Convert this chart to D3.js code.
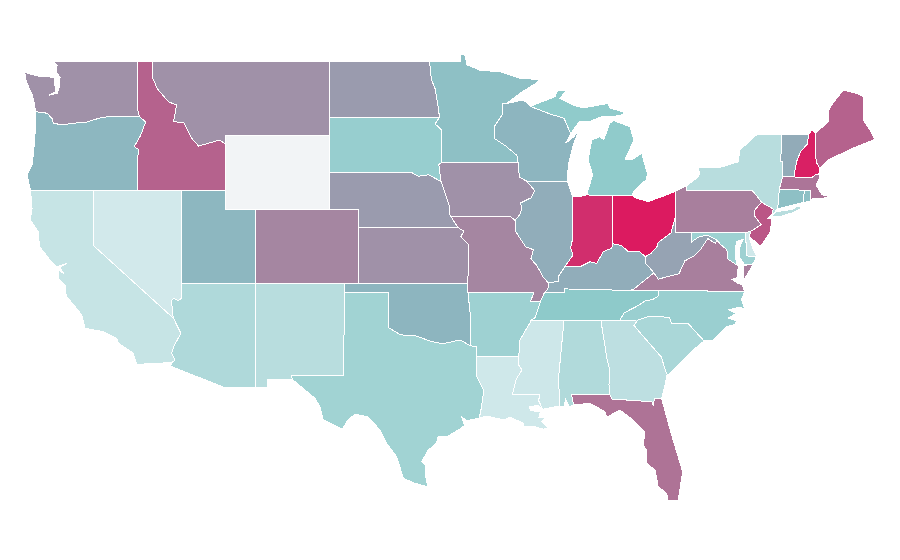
<!DOCTYPE html>
<html>
<head>
<meta charset="utf-8">
<title>US states</title>
<script src="https://cdn.jsdelivr.net/npm/d3@7"></script>
<style>
  body { margin: 0; background: #fff; }
  .state { stroke: #fff; stroke-width: 1; shape-rendering: crispEdges; }
</style>
</head>
<body>
<svg id="map" width="900" height="560"></svg>
<script>
// state values, same order in both lists. null = no data
const stateNames = ["Alabama","Arizona","Arkansas","California","Colorado","Connecticut","Delaware","Florida","Georgia","Idaho","Illinois","Indiana","Iowa","Kansas","Kentucky","Louisiana","Maine","Maryland","Massachusetts","Michigan","Minnesota","Mississippi","Missouri","Montana","Nebraska","Nevada","New Hampshire","New Jersey","New Mexico","New York","North Carolina","North Dakota","Ohio","Oklahoma","Oregon","Pennsylvania","Rhode Island","South Carolina","South Dakota","Tennessee","Texas","Utah","Vermont","Virginia","Washington","West Virginia","Wisconsin","Wyoming"];
const stateValues = [15,16,23,6,60,35,2,68,10,75,43,93,55,55,43,2,75,23,67,29,35,3,60,55,50,1,98,79,12,12,25,50,100,40,39,63,35,18,26,30,22,39,44,63,55,47,40,null];

// colour ramp
const rampStops = [0,30,40,50,60,75,100];
const rampColors = ["#d4eaec","#8ecaca","#8db5bf","#9a9bae","#a586a1","#b5628d","#dc1a60"];
const noDataColor = "#f2f4f6";

// borders, lon/lat. shared ones are kept once so neighbours line up
const waCoast = [[-122.76,49],[-122.5,48.75],[-122.55,48.4],[-122.3,48.1],[-122.35,47.6],[-122.5,47.25],[-123.05,47.15],[-122.6,47.35],[-122.65,47.7],[-122.7,48.1],[-123.1,48.15],[-123.7,48.17],[-124.7,48.38],[-124.6,47.9],[-124.2,47.2],[-124.05,46.7],[-123.95,46.25]];
const columbia = [[-123.95,46.25],[-123.4,46.22],[-123.15,46.15],[-122.85,45.9],[-122.75,45.65],[-122.25,45.55],[-121.2,45.65],[-120.5,45.7],[-119.6,45.92],[-119,46],[-116.92,46]];
const waId = [[-117.03,49],[-117.04,46.4],[-116.92,46]];
const orCoast = [[-123.95,46.25],[-124,45],[-124.1,44],[-124.2,43.4],[-124.55,42.85],[-124.3,42]];
const snake = [[-116.92,46],[-116.49,45.7],[-116.85,44.95],[-117.27,44.37],[-116.95,44.2],[-117.03,43.8],[-117.03,42]];
const idMt = [[-116.05,49],[-116.05,48.15],[-115.7,47.5],[-114.95,46.8],[-114.39,46.62],[-114.6,45.72],[-113.9,45.66],[-113.36,44.82],[-112.9,44.4],[-111.45,44.73],[-111.05,44.48]];
const caCoast = [[-124.3,42],[-124.2,41],[-124.33,40.41],[-123.77,39.77],[-123.7,38.97],[-122.98,38.24],[-122.52,37.88],[-121.85,38.05],[-122.3,37.85],[-122.05,37.5],[-122.4,37.7],[-122.4,37.2],[-121.96,36.9],[-121.96,36.62],[-121.84,36.26],[-120.82,35.27],[-120.6,34.55],[-119.36,34.37],[-118.45,34.01],[-118.34,33.74],[-117.33,33.2],[-117.1,32.6]];
const colorado = [[-114.72,32.7],[-114.5,32.84],[-114.72,33.2],[-114.6,33.55],[-114.1,34.28],[-114.6,35.09]];
const nvAz = [[-114.05,37],[-114.05,36.17],[-114.3,36.05],[-114.6,36.17],[-114.72,36.08],[-114.68,35.36],[-114.6,35.09]];
const rioGrande = [[-97.35,25.99],[-98.2,26.17],[-99,26.44],[-99.46,27.61],[-100.14,28.33],[-100.59,29.05],[-101.4,29.77],[-102.29,29.9],[-102.76,29.6],[-103.15,29.09],[-104.44,29.6],[-104.66,30.31],[-105,30.77],[-106.53,31.78]];
const txCoast = [[-93.85,29.7],[-94.7,29.55],[-95.05,29.77],[-94.85,29.3],[-95.28,29.05],[-96.06,28.69],[-96.64,28.69],[-96.75,28.34],[-97.31,27.97],[-97.76,27.34],[-97.49,27.16],[-97.49,26.53],[-97.35,25.99]];
const txOk = [[-100,36.5],[-100,34.58],[-99.2,34.2],[-98.1,34.13],[-97.08,33.83],[-96.3,33.72],[-95.16,33.92],[-94.48,33.62]];
const txAr = [[-94.48,33.62],[-94.04,33.55],[-94.04,33.02]];
const txLa = [[-94.04,33.02],[-94.04,31.99],[-93.55,31.2],[-93.7,30.3],[-93.85,29.7]];
const okAr = [[-94.62,36.5],[-94.48,35.4],[-94.48,33.62]];
const arTn = [[-89.7,36],[-90.07,35.13],[-90.3,35]];
const arMs = [[-90.3,35],[-90.6,34.6],[-91.1,33.9],[-91.17,33.02]];
const msLa = [[-91.17,33.02],[-91.2,32.6],[-90.95,32.3],[-91.35,31.8],[-91.6,31],[-89.73,31],[-89.83,30.65],[-89.55,30.18]];
const laCoast = [[-89.55,30.18],[-89.87,30.4],[-90.43,30.3],[-90.4,30.1],[-89.7,30.05],[-89.8,29.75],[-89.3,29.75],[-89.62,29.5],[-89.2,29.16],[-89.5,29.1],[-90.08,29.23],[-90.87,29.25],[-90.87,29.42],[-91.77,29.75],[-92.2,29.6],[-93.35,29.81],[-93.85,29.7]];
const missMoIl = [[-91.43,40.38],[-91.4,39.8],[-90.7,38.95],[-90.18,38.8],[-90.35,38.3],[-89.95,37.95],[-89.5,37.3],[-89.15,37]];
const moKy = [[-89.15,37],[-89.2,36.65],[-89.42,36.5]];
const moTn = [[-89.42,36.5],[-89.7,36]];
const ksMo = [[-95.3,40],[-94.9,39.8],[-95.1,39.5],[-94.6,39.1],[-94.62,37]];
const neSd = [[-104.05,43],[-98.5,43],[-98,42.77],[-97.3,42.85],[-96.45,42.49]];
const neIa = [[-96.45,42.49],[-96.1,41.7],[-95.9,41.2],[-95.85,40.7],[-95.77,40.58]];
const neMo = [[-95.77,40.58],[-95.3,40]];
const mnSd = [[-96.56,45.94],[-96.85,45.6],[-96.45,45.3],[-96.45,43.5]];
const sdIa = [[-96.45,43.5],[-96.6,43.4],[-96.45,42.49]];
const redNorth = [[-97.23,49],[-97.1,48],[-96.85,47.5],[-96.6,46.3],[-96.56,45.94]];
const mnWi = [[-91.22,43.5],[-91.3,43.9],[-92.05,44.4],[-92.8,44.8],[-92.8,45.5],[-92.3,46.1],[-92.25,46.7],[-92,46.7]];
const iaWi = [[-90.64,42.51],[-91.1,42.7],[-91.2,43.1],[-91.22,43.5]];
const iaIl = [[-91.43,40.38],[-91.1,40.7],[-90.95,41.1],[-91.07,41.32],[-90.35,41.6],[-90.1,42],[-90.64,42.51]];
const ilIn = [[-87.53,41.67],[-87.53,39.35],[-87.65,38.9],[-87.5,38.5],[-88.05,37.88]];
const ilKy = [[-88.05,37.88],[-88.45,37.4],[-88.5,37.1],[-89.15,37]];
const inKy = [[-88.05,37.88],[-87.02,37.88],[-86.34,38.15],[-85.89,38.06],[-85.44,38.69],[-84.87,38.88],[-84.8,39.12]];
const inOh = [[-84.8,41.72],[-84.8,39.12]];
const ohWv = [[-80.52,40.64],[-80.85,39.7],[-81.7,39.2],[-81.8,38.95],[-82.2,38.6],[-82.6,38.42]];
const ohKy = [[-82.6,38.42],[-82.95,38.69],[-83.74,38.69],[-84.2,39.03],[-84.8,39.12]];
const kyWv = [[-82.6,38.42],[-82.6,38.1],[-82,37.55]];
const kyVa = [[-82,37.55],[-83.4,36.65],[-83.68,36.6]];
const kyTn = [[-83.68,36.6],[-88.07,36.68],[-88.07,36.5],[-89.42,36.5]];
const tnVa = [[-81.68,36.59],[-83.68,36.6]];
const tnNc = [[-81.68,36.59],[-81.7,36.3],[-82.05,36.12],[-82.6,36.03],[-83.2,35.72],[-84,35.4],[-84.32,34.99]];
const tnSouth = [[-90.3,35],[-88.1,35],[-85.6,34.98],[-84.32,34.99]];
const msAl = [[-88.4,30.35],[-88.47,31.9],[-88.1,35]];
const alGa = [[-85.6,34.98],[-85.18,32.87],[-85,32.3],[-85.05,31.5],[-85,30.97]];
const alFl = [[-85,30.97],[-87.6,30.97],[-87.45,30.4]];
const alCoast = [[-87.45,30.4],[-87.75,30.3],[-88,30.7],[-88.1,30.3],[-88.4,30.35]];
const gaSc = [[-83.1,35],[-83.35,34.7],[-82.6,34],[-81.5,33],[-81.15,32.1],[-81.1,32.05]];
const gaCoast = [[-81.1,32.05],[-81.3,31.3],[-81.48,30.75]];
const gaFl = [[-81.48,30.75],[-81.95,30.77],[-82.05,30.4],[-82.15,30.58],[-84.85,30.73],[-85,30.97]];
const flCoast = [[-81.48,30.75],[-80.8,28.78],[-80.05,26.8],[-80.35,25.27],[-81.03,25.22],[-81.14,25.63],[-81.71,25.99],[-81.93,26.89],[-82.5,27.25],[-82.5,27.97],[-82.73,28.24],[-82.61,28.96],[-83.4,29.59],[-84.31,30.14],[-85.21,29.74],[-85.33,30.05],[-86.34,30.5],[-87.45,30.4]];
const scCoast = [[-81.1,32.05],[-80.92,32.1],[-80,32.84],[-79.2,33.47],[-78.6,33.87]];
const scNc = [[-78.6,33.87],[-79.67,34.8],[-80.8,34.82],[-80.93,35.1],[-81.05,35.15],[-82.3,35.2],[-83.1,35]];
const ncCoast = [[-78.6,33.87],[-77.97,33.9],[-77.07,34.65],[-76.5,34.75],[-76.4,34.95],[-76.95,35.1],[-76.45,35.35],[-76.9,35.55],[-76.2,35.7],[-75.85,35.6],[-76.05,36.1],[-75.85,36.55]];
const vaWv = [[-82,37.55],[-81.7,37.2],[-81.3,37.3],[-80.3,37.5],[-79.9,38.2],[-79.3,38.45],[-78.87,38.78],[-78.35,39.4],[-77.83,39.14],[-77.72,39.32]];
const wvMd = [[-77.72,39.32],[-78.4,39.6],[-79,39.47],[-79.48,39.2],[-79.48,39.72]];
const potomac = [[-76.25,37.9],[-77,38.3],[-77.05,38.8],[-77.5,39.1],[-77.72,39.32]];
const vaCoast = [[-75.85,36.55],[-76,36.9],[-76.35,37],[-76.7,37.2],[-76.3,37.3],[-76.35,37.6],[-76.25,37.9]];
const nyVt = [[-73.34,45.01],[-73.35,44.2],[-73.43,43.6],[-73.25,43.55],[-73.27,42.74]];
const nyMa = [[-73.27,42.74],[-73.5,42.05]];
const nyCt = [[-73.5,42.05],[-73.55,41.3],[-73.65,41]];
const nyNj = [[-74,40.7],[-73.9,41],[-74.7,41.36]];
const nyPa = [[-74.7,41.36],[-75.05,41.75],[-75.35,42],[-79.76,42],[-79.76,42.27]];
const njPa = [[-74.7,41.36],[-75.13,40.98],[-75.2,40.65],[-74.72,40.15],[-75.42,39.8]];
const vtNh = [[-71.5,45.01],[-71.6,44.5],[-72.05,44.1],[-72.3,43.6],[-72.45,43],[-72.46,42.73]];
const nhMa = [[-72.46,42.73],[-71.3,42.7],[-71,42.87],[-70.82,42.87]];
const nhMe = [[-71.3,45.27],[-71.03,45.1],[-71,43.55],[-70.74,43.2],[-70.82,42.87]];
const wiMi = [[-90.4,46.55],[-89.1,46.15],[-88.1,45.9],[-87.8,45.35],[-87.65,45.05]];

const rev = a => a.slice().reverse();
const ring = (...parts) => parts.flat();

const stateShapes = {
  "Washington": [ring([[-122.76,49],[-117.03,49]], waId, rev(columbia), rev(waCoast))],
  "Oregon": [ring(columbia, snake, [[-120,42]], rev(orCoast))],
  "Idaho": [ring([[-117.03,49]], idMt, [[-111.05,42],[-114.04,42]], rev(snake), rev(waId))],
  "Montana": [ring([[-104.05,49],[-104.05,45],[-111.05,45]], rev(idMt))],
  "Wyoming": [[[-111.05,45],[-104.05,45],[-104.05,41],[-111.05,41]]],
  "California": [ring([[-124.3,42],[-120,42],[-120,39]], rev(colorado), rev(caCoast))],
  "Nevada": [ring([[-120,42],[-114.04,42]], nvAz, [[-120,39]])],
  "Utah": [[[-114.04,42],[-111.05,42],[-111.05,41],[-109.05,41],[-109.05,37],[-114.05,37]]],
  "Colorado": [[[-109.05,41],[-102.05,41],[-102.05,37],[-109.05,37]]],
  "Arizona": [ring([[-114.05,37],[-109.05,37],[-109.05,31.33],[-111.07,31.33],[-114.8,32.5]], colorado, rev(nvAz))],
  "New Mexico": [[[-109.05,37],[-103,37],[-103,36.5],[-103.06,32],[-106.62,32],[-106.53,31.78],[-108.2,31.78],[-108.2,31.33],[-109.05,31.33]]],
  "Texas": [ring([[-103,36.5]], txOk, txAr, txLa, txCoast, rioGrande, [[-106.62,32],[-103.06,32]])],
  "Oklahoma": [ring([[-103,37],[-94.62,37]], okAr, rev(txOk), [[-103,36.5]])],
  "Kansas": [ring([[-102.05,40]], ksMo, [[-102.05,37]])],
  "Nebraska": [ring(neSd, neIa, neMo, [[-102.05,40],[-102.05,41],[-104.05,41]])],
  "South Dakota": [ring([[-104.05,45.94]], mnSd, sdIa, rev(neSd))],
  "North Dakota": [ring([[-104.05,49]], redNorth, [[-104.05,45.94]])],
  "Minnesota": [ring([[-97.23,49],[-95.15,49],[-95.15,49.38],[-94.8,49.3],[-94.7,48.8],[-93.8,48.5],[-92.45,48.42],[-91.1,48.06],[-89.75,48],[-90,47.8],[-91,47.3]], rev(mnWi), [[-96.45,43.5]], rev(mnSd), rev(redNorth))],
  "Iowa": [ring([[-96.45,43.5]], rev(iaWi), rev(iaIl), [[-91.73,40.6]], rev(neIa), rev(sdIa))],
  "Missouri": [ring([[-95.77,40.58],[-91.73,40.6]], missMoIl, moKy, moTn, [[-90.37,36],[-90.15,36.5],[-94.62,36.5]], rev(ksMo))],
  "Arkansas": [ring([[-94.62,36.5],[-90.15,36.5],[-90.37,36]], arTn, arMs, rev(txAr), rev(okAr))],
  "Louisiana": [ring([[-94.04,33.02]], msLa, laCoast, rev(txLa))],
  "Wisconsin": [ring([[-92,46.7],[-90.85,46.9]], wiMi, [[-88,44.55],[-87.45,44.9],[-87.1,45.25],[-87.5,44.4],[-87.81,43.4],[-87.88,42.5]], iaWi, mnWi)],
  "Illinois": [ring([[-90.64,42.51],[-87.88,42.5]], ilIn, ilKy, rev(missMoIl), iaIl)],
  "Indiana": [ring([[-87.53,41.67],[-87.2,41.65],[-86.57,41.76]], inOh, rev(inKy), rev(ilIn))],
  "Ohio": [ring([[-84.8,41.72],[-83.5,41.73],[-83.17,41.58],[-82.39,41.4],[-81.14,41.76],[-80.52,41.97]], ohWv, ohKy, rev(inOh))],
  "Michigan": [
    ring([[-86.57,41.76],[-86.16,42.84],[-86.46,43.65],[-86.23,44.73],[-85.67,44.91],[-85.4,44.75],[-85,45.63],[-84.75,45.78],[-83.63,45.45],[-83.36,44.73],[-83.97,43.65],[-83.5,43.65],[-82.83,44.01],[-82.45,42.93],[-82.5,42.6],[-83.29,42.03],[-83.5,41.73],[-84.8,41.72]]),
    ring(wiMi, [[-87.1,45.7],[-86.3,45.75],[-85.5,46],[-84.9,45.98],[-84.07,46.1],[-84.07,46.25],[-85,46.46],[-85.1,46.71],[-86.82,46.46],[-87.48,46.62],[-88.38,46.98],[-87.93,47.43],[-88.52,47.43],[-88.72,47.07]])
  ],
  "Kentucky": [ring(inKy, rev(ohKy), kyWv, kyVa, kyTn, rev(moKy), rev(ilKy))],
  "Tennessee": [ring(tnVa, kyTn, moTn, arTn, tnSouth, rev(tnNc))],
  "Mississippi": [ring([[-90.3,35]], rev(msAl), rev(msLa), rev(arMs))],
  "Alabama": [ring([[-88.1,35]], alGa, alFl, alCoast, msAl)],
  "Georgia": [ring([[-85.6,34.98],[-84.32,34.99]], gaSc, gaCoast, gaFl, rev(alGa))],
  "Florida": [ring(rev(gaFl), flCoast, rev(alFl))],
  "South Carolina": [ring(gaSc, scCoast, scNc)],
  "North Carolina": [ring([[-84.32,34.99]], rev(scNc), ncCoast, tnNc)],
  "Virginia": [
    ring([[-83.68,36.6],[-81.68,36.59]], vaCoast, potomac, rev(vaWv), kyVa),
    [[-75.9,37.95],[-75.25,38.03],[-75.9,37.15]]
  ],
  "West Virginia": [ring(vaWv, wvMd, [[-80.52,39.72]], ohWv, kyWv)],
  "Maryland": [ring([[-79.48,39.72],[-75.79,39.72],[-75.7,38.46],[-75.05,38.45],[-75.25,38.03],[-75.85,38],[-76.2,38.4],[-76.2,38.9],[-75.95,39.35],[-76.4,39.25],[-76.5,38.6],[-76.4,38.05]], potomac, wvMd)],
  "Delaware": [[[-75.79,39.72],[-75.42,39.8],[-75.55,39.5],[-75.35,39],[-75.05,38.45],[-75.7,38.46]]],
  "Pennsylvania": [ring([[-80.52,41.97]], rev(nyPa), njPa, [[-75.79,39.72],[-80.52,39.72]])],
  "New Jersey": [ring(rev(nyNj), [[-74.25,40.5],[-74,40.45],[-74.1,39.75],[-74.8,38.95],[-75.05,39.2],[-75.55,39.5]], rev(njPa))],
  "New York": [
    ring([[-79.76,42.27],[-79.05,42.7],[-78.9,42.9],[-79,43.27],[-77.52,43.25],[-76.28,43.55],[-76.17,44.19],[-75.05,45]], nyVt, nyMa, nyCt, [[-73.8,40.8]], nyNj, nyPa),
    [[-74,40.6],[-73.75,40.85],[-72.6,40.98],[-72.3,41.15],[-71.9,41.07],[-72.5,40.82],[-73.5,40.58]]
  ],
  "Vermont": [ring(nyVt, rev(vtNh))],
  "New Hampshire": [ring(vtNh, nhMa, rev(nhMe))],
  "Maine": [ring(nhMe.slice(1, 4), [[-70.17,43.65],[-69,44.1],[-68.25,44.37],[-67,44.77],[-67.35,45.27],[-67.8,45.81],[-67.8,47.07],[-68.25,47.25],[-69.15,47.43],[-69.95,46.62],[-70.17,46.26],[-70.17,45.72]])],
  "Massachusetts": [ring([[-73.27,42.74]], nhMa, [[-70.72,42.75],[-71,42.3],[-70.6,41.76],[-70,41.7],[-70.55,41.58],[-71.2,41.58],[-71.35,41.45],[-71.38,42.02],[-71.8,42.02],[-73.5,42.05]])],
  "Connecticut": [ring(nyCt, [[-71.85,41.35],[-71.8,42.02]])],
  "Rhode Island": [[[-71.8,42.02],[-71.38,42.02],[-71.35,41.45],[-71.85,41.35]]]
};

const width = 900, height = 560;

// the map is plain lon/lat stretched to the page
const x = d3.scaleLinear().domain([-104.05, -67]).range([329, 875]);
const y = d3.scaleLinear().domain([49, 25]).range([61, 505]);
const color = d3.scaleLinear().domain(rampStops).range(rampColors);

const path = d3.geoPath(d3.geoTransform({
  point: function(lon, lat) { this.stream.point(x(lon), y(lat)); }
}));

const features = stateNames.map((name, i) => ({
  type: "Feature",
  properties: { name: name, value: stateValues[i] },
  geometry: {
    type: "MultiPolygon",
    coordinates: stateShapes[name].map(r => [r.concat([r[0]])])
  }
}));

d3.select("#map")
  .attr("viewBox", [0, 0, width, height])
  .selectAll("path")
  .data(features)
  .enter()
  .append("path")
  .attr("class", "state")
  .attr("d", path)
  .style("fill", d => d.properties.value === null ? noDataColor : color(d.properties.value))
  .append("title")
  .text(d => d.properties.name);
</script>
</body>
</html>
